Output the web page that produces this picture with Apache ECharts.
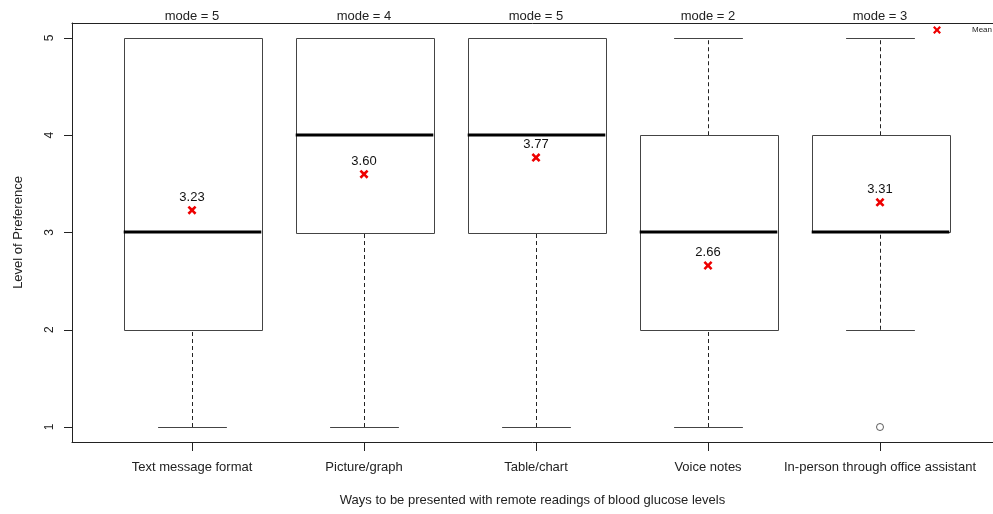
<!DOCTYPE html>
<html><head><meta charset="utf-8">
<script src="https://cdn.jsdelivr.net/npm/echarts@6/dist/echarts.min.js"></script>
<style>html,body{margin:0;padding:0;background:#fff}#c{width:993px;height:514px}</style>
</head><body><div id="c"></div>
<script>
const categories = ['Text message format','Picture/graph','Table/chart','Voice notes','In-person through office assistant'];
const mins    = [1, 1, 1, 1, 2];
const q1s     = [2, 3, 3, 2, 3];
const medians = [3, 4, 4, 3, 3];
const q3s     = [5, 5, 5, 4, 4];
const maxs    = [5, 5, 5, 5, 5];
const means   = [3.23, 3.60, 3.77, 2.66, 3.31];
const modes   = [5, 4, 5, 2, 3];
const outliers = [[5, 1]];
const yTicks = [1, 2, 3, 4, 5];

const FONT = '"Liberation Sans", Arial, sans-serif';
const xMin = 1 - 120/172, xMax = xMin + 921/172;
const yMin = 0.846, yMax = 5.154;

const boxData = categories.map((c, i) => [i + 1, mins[i], q1s[i], medians[i], q3s[i], maxs[i]]);
const meanData = means.map((m, i) => [i + 1, m]);
const modeData = modes.map((m, i) => [i + 1, m]);

const xPath = 'path://M0,2 L2,0 L5,3 L8,0 L10,2 L7,5 L10,8 L8,10 L5,7 L2,10 L0,8 L3,5 Z';

const chart = echarts.init(document.getElementById('c'), null, {renderer: 'canvas'});
chart.setOption({
  animation: false,
  backgroundColor: '#fff',
  textStyle: {fontFamily: FONT},
  grid: {left: 72, right: 0, top: 23, bottom: 72, containLabel: false, outerBoundsMode: 'none'},
  legend: {
    data: [{name: 'Mean', icon: xPath}],
    left: 928, top: 21, itemWidth: 8, itemHeight: 8, itemGap: 4,
    textStyle: {fontSize: 8, color: '#222', fontFamily: FONT, padding: [2, 0, 0, 26]}
  },
  xAxis: [{
    type: 'value', min: xMin, max: xMax, position: 'bottom',
    name: 'Ways to be presented with remote readings of blood glucose levels',
    nameLocation: 'middle', nameGap: 52,
    nameTextStyle: {fontSize: 13, color: '#222', fontFamily: FONT},
    axisLine: {show: true, lineStyle: {color: '#222', width: 1}},
    axisTick: {show: true, customValues: [1,2,3,4,5], length: 9, inside: false, lineStyle: {color: '#222'}},
    axisLabel: {show: true, customValues: [1,2,3,4,5], margin: 19, fontSize: 13, color: '#222', fontFamily: FONT,
      formatter: v => categories[Math.round(v) - 1] || ''},
    splitLine: {show: false}
  }, {
    type: 'value', min: xMin, max: xMax, position: 'top',
    axisLine: {show: true, lineStyle: {color: '#222', width: 1}},
    axisTick: {show: false}, axisLabel: {show: false}, splitLine: {show: false}
  }],
  yAxis: {
    type: 'value', min: yMin, max: yMax,
    name: 'Level of Preference', nameLocation: 'middle', nameGap: 47, nameRotate: 90,
    nameTextStyle: {fontSize: 13, color: '#222', fontFamily: FONT},
    axisLine: {show: true, lineStyle: {color: '#222', width: 1}},
    axisTick: {show: true, customValues: yTicks, length: 8, lineStyle: {color: '#222'}},
    axisLabel: {show: true, customValues: yTicks, rotate: 90, margin: 16, fontSize: 12, color: '#222', fontFamily: FONT},
    splitLine: {show: false}
  },
  series: [{
    type: 'custom',
    name: 'box',
    xAxisIndex: 0,
    data: boxData,
    renderItem: function (params, api) {
      const x = api.value(0);
      const p = k => api.coord([x, api.value(k)]);
      const hw = api.size([0.4, 0])[0];
      const cw = api.size([0.2, 0])[0];
      const pMin = p(1), pQ1 = p(2), pMed = p(3), pQ3 = p(4), pMax = p(5);
      const cx = Math.round(pMin[0]) + 0.5;
      const dash = {stroke: '#222', lineWidth: 1, lineDash: [4, 3]};
      const solid = {stroke: '#444', lineWidth: 1};
      const children = [];
      if (pQ1[1] !== pMin[1]) children.push({type: 'line', shape: {x1: cx, y1: pMin[1], x2: cx, y2: pQ1[1]}, style: dash});
      if (pQ3[1] !== pMax[1]) children.push({type: 'line', shape: {x1: cx, y1: pQ3[1], x2: cx, y2: pMax[1]}, style: dash});
      children.push({type: 'line', shape: {x1: cx - cw, y1: Math.round(pMin[1]) + 0.5, x2: cx + cw, y2: Math.round(pMin[1]) + 0.5}, style: solid});
      children.push({type: 'line', shape: {x1: cx - cw, y1: Math.round(pMax[1]) + 0.5, x2: cx + cw, y2: Math.round(pMax[1]) + 0.5}, style: solid});
      children.push({type: 'rect', shape: {x: Math.round(cx - hw) + 0.5, y: Math.round(pQ3[1]) + 0.5, width: Math.round(2 * hw), height: Math.round(pQ1[1] - pQ3[1])},
        style: {fill: 'none', stroke: '#444', lineWidth: 1}});
      children.push({type: 'line', shape: {x1: cx - hw, y1: Math.round(pMed[1]), x2: cx + hw, y2: Math.round(pMed[1])}, style: {stroke: '#000', lineWidth: 3}});
      return {type: 'group', children: children};
    },
    silent: true, z: 2
  }, {
    type: 'custom',
    name: 'mode',
    data: modeData,
    renderItem: function (params, api) {
      const pt = api.coord([api.value(0), yMax]);
      return {type: 'text', x: pt[0], y: pt[1] - 7,
        style: {text: 'mode = ' + api.value(1), fill: '#222', font: '13px ' + FONT, align: 'center', verticalAlign: 'middle'}};
    },
    silent: true, z: 3
  }, {
    type: 'scatter',
    name: 'Mean',
    data: meanData,
    symbol: xPath,
    symbolSize: 9,
    itemStyle: {color: '#ee0000', opacity: 1},
    label: {show: true, position: 'top', distance: 2, fontSize: 13, color: '#111', fontFamily: FONT,
      formatter: p => p.value[1].toFixed(2)},
    z: 4
  }, {
    type: 'scatter',
    name: 'outlier',
    data: outliers,
    symbol: 'circle',
    symbolSize: 7,
    itemStyle: {color: '#fff', borderColor: '#333', borderWidth: 0.8, opacity: 1},
    z: 4
  }]
});
</script></body></html>
